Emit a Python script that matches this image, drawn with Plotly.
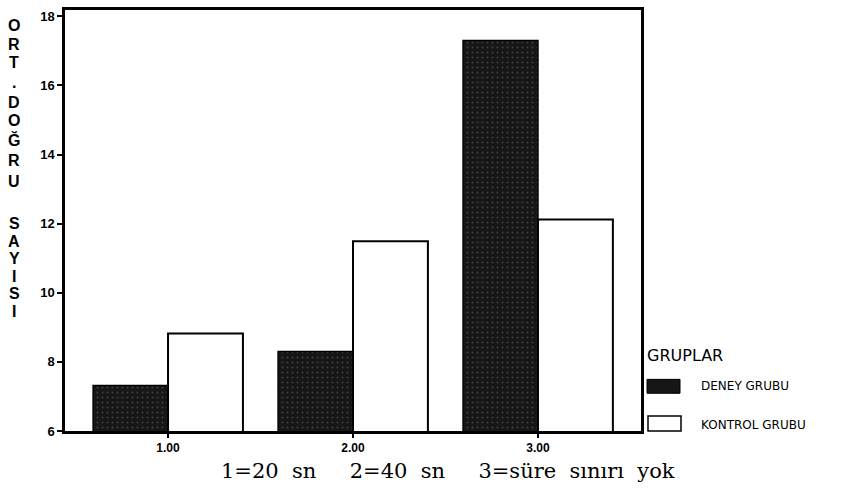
import plotly.graph_objects as go

categories = [1, 2, 3]
tick_labels = ["1.00", "2.00", "3.00"]
deney = [7.32, 8.30, 17.3]
kontrol = [8.82, 11.49, 12.12]
y_ticks = [6, 8, 10, 12, 14, 16, 18]
series_names = ["DENEY GRUBU", "KONTROL GRUBU"]
y_title = "ORT.DOĞRU SAYISI"
caption_parts = ["1=20", "sn", "2=40", "sn", "3=süre", "sınırı", "yok"]

W, H = 846, 492
L, R, T, B = 65, 641, 7, 431  # plot area in page pixels


def px(x):
    return (x - L) / (R - L)


def py(y):
    return (B - y) / (B - T)


fig = go.Figure()
fig.add_trace(go.Bar(
    x=categories, y=deney, name=series_names[0],
    marker=dict(color="#161616", line=dict(color="black", width=1.5),
                pattern=dict(shape=".", fgcolor="#6a6a6a", bgcolor="#161616",
                             size=5, solidity=0.12)),
))
fig.add_trace(go.Bar(
    x=categories, y=kontrol, name=series_names[1],
    marker=dict(color="white", line=dict(color="black", width=2)),
))

fig.update_layout(
    width=W, height=H,
    margin=dict(l=L, r=W - R, t=T, b=H - B),
    paper_bgcolor="white", plot_bgcolor="white",
    barmode="group", bargap=0.19, bargroupgap=0,
    showlegend=False,
    font=dict(family="Liberation Sans, Arial", color="black"),
)
fig.update_xaxes(
    range=[0.443, 3.557], tickmode="array", tickvals=categories,
    ticktext=["<b>%s</b>" % t for t in tick_labels],
    showline=True, linecolor="black", linewidth=2.5, mirror=True,
    ticks="outside", ticklen=4, tickwidth=1.5, tickcolor="black", showgrid=False,
    tickfont=dict(size=12, family="Liberation Sans, Arial", color="black"),
)
fig.update_yaxes(
    range=[6, 6 + (B - T) / 34.8], tickmode="array", tickvals=y_ticks,
    ticktext=["<b>%d</b>" % v for v in y_ticks],
    showline=True, linecolor="black", linewidth=2.5, mirror=True,
    ticks="outside", ticklen=5, tickwidth=1.5, tickcolor="black", showgrid=False,
    zeroline=False,
    tickfont=dict(size=13, family="Liberation Sans, Arial", color="black"),
)

# Vertical stacked y-axis title, one letter per line
letter_y = [23, 42, 60, 80, 100, 118, 138, 159, 180, None, 222, 240, 257, 275, 293, 311]
for ch, yy in zip(y_title, letter_y):
    if ch == " ":
        continue
    fig.add_annotation(
        xref="paper", yref="paper", x=px(14), y=py(yy),
        xanchor="center", yanchor="middle", showarrow=False,
        text="<b>%s</b>" % ch,
        font=dict(size=16, family="Liberation Sans, Arial", color="black"),
    )

# bottom caption
sp_w = "&nbsp;" * 2
sp_g = "&nbsp;" * 5
caption = (caption_parts[0] + sp_w + caption_parts[1] + sp_g + caption_parts[2] + sp_w
           + caption_parts[3] + sp_g + caption_parts[4] + sp_w + caption_parts[5] + sp_w
           + caption_parts[6])
fig.add_annotation(
    xref="paper", yref="paper", x=px(448), y=py(471),
    xanchor="center", yanchor="middle", showarrow=False,
    text=caption,
    font=dict(size=21, family="DejaVu Serif, Liberation Serif", color="black"),
)

# legend drawn manually
fig.add_annotation(
    xref="paper", yref="paper", x=px(645), y=py(355),
    xanchor="left", yanchor="middle", showarrow=False,
    text="GRUPLAR", font=dict(size=16, family="DejaVu Sans, Arial", color="black"),
)
fig.add_shape(type="rect", xref="paper", yref="paper",
              x0=px(647), x1=px(680), y0=py(393), y1=py(379),
              fillcolor="#161616", line=dict(color="black", width=1))
fig.add_shape(type="rect", xref="paper", yref="paper",
              x0=px(648), x1=px(681), y0=py(431), y1=py(416),
              fillcolor="white", line=dict(color="black", width=1.5))
fig.add_annotation(
    xref="paper", yref="paper", x=px(699), y=py(386),
    xanchor="left", yanchor="middle", showarrow=False,
    text=series_names[0], font=dict(size=12, family="DejaVu Sans, Arial", color="black"),
)
fig.add_annotation(
    xref="paper", yref="paper", x=px(699), y=py(425),
    xanchor="left", yanchor="middle", showarrow=False,
    text=series_names[1], font=dict(size=12, family="DejaVu Sans, Arial", color="black"),
)

fig.write_html("out.html", config={"displayModeBar": False},
               post_script="document.body.style.margin='0';")
